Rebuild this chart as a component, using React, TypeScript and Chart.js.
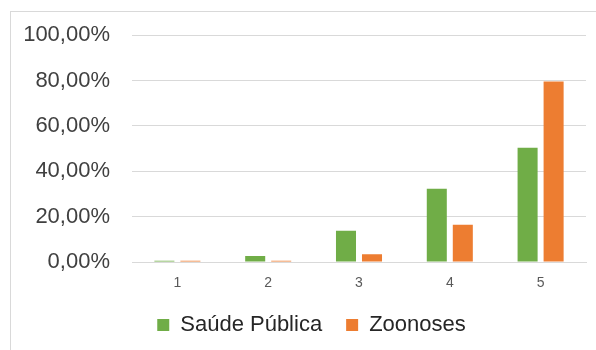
import React, { useEffect, useRef } from "react";
import { Chart, registerables } from "chart.js";

Chart.register(...registerables);

const categories = ["1", "2", "3", "4", "5"];
const saudePublica = [0.6, 2.7, 13.8, 32.3, 50.4];
const zoonoses = [0.5, 0.6, 3.4, 16.4, 79.6];
const seriesNames = ["Saúde Pública", "Zoonoses"];
const yTickMax = 100;
const yTickStep = 20;

const FONT = "'Liberation Sans', Arial, sans-serif";

const legendShift = {
  id: "legendShift",
  afterLayout(chart: any) {
    const l = chart.legend;
    if (l) {
      l.left += 6;
      l.right += 6;
    }
  },
};

export default function App() {
  const canvasRef = useRef<HTMLCanvasElement | null>(null);

  useEffect(() => {
    if (!canvasRef.current) return;
    const chart = new Chart(canvasRef.current, {
      type: "bar",
      data: {
        labels: categories,
        datasets: [
          {
            label: seriesNames[0],
            data: saudePublica,
            backgroundColor: "#70AD47",
            borderWidth: 0,
            categoryPercentage: 0.573,
            barPercentage: 0.77,
          },
          {
            label: seriesNames[1],
            data: zoonoses,
            backgroundColor: "#ED7D31",
            borderWidth: 0,
            categoryPercentage: 0.573,
            barPercentage: 0.77,
          },
        ],
      },
      plugins: [legendShift],
      options: {
        responsive: false,
        animation: false,
        maintainAspectRatio: false,
        layout: { padding: { top: 31, right: 10, left: 25, bottom: 4 } },
        plugins: {
          tooltip: { enabled: false },
          legend: {
            position: "bottom",
            labels: {
              boxWidth: 12,
              boxHeight: 12,
              padding: 24,
              color: "#262626",
              font: { family: FONT, size: 22 },
            },
          },
        },
        scales: {
          x: {
            grid: { display: false, drawTicks: false },
            border: { display: true, color: "#d9d9d9" },
            ticks: {
              color: "#595959",
              padding: 13,
              font: { family: FONT, size: 14 },
            },
            afterFit: (scale: any) => {
              scale.height = 28;
            },
          },
          y: {
            min: 0,
            max: yTickMax,
            grid: { color: "#d9d9d9", lineWidth: 1, drawTicks: false },
            border: { display: false },
            ticks: {
              stepSize: yTickStep,
              padding: 22,
              color: "#404040",
              font: { family: FONT, size: 22 },
              callback: (v: any) => Number(v).toFixed(2).replace(".", ",") + "%",
            },
            afterFit: (scale: any) => {
              scale.width = 107;
            },
          },
        },
      },
    });
    return () => chart.destroy();
  }, []);

  return (
    <div style={{ position: "fixed", left: 0, top: 0, width: 596, height: 350, background: "#fff", overflow: "hidden" }}>
      <div
        style={{
          position: "absolute",
          left: 10,
          top: 11,
          width: 620,
          height: 400,
          border: "1px solid #d9d9d9",
        }}
      />
      <canvas ref={canvasRef} width={596} height={350} style={{ position: "absolute", left: 0, top: 0 }} />
    </div>
  );
}
